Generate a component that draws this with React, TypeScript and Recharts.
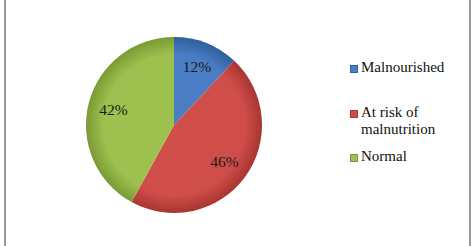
import React from "react";
import { PieChart, Pie, Cell, Legend } from "recharts";

const categories = ["Malnourished", "At risk of malnutrition", "Normal"];
const values = [12, 46, 42];
const colors = ["#4A7EC4", "#D04E4A", "#9DC04F"];
const darkColors = ["#2F5F9E", "#A83531", "#7A9A34"];

const data = categories.map((name, i) => ({ name, value: values[i] }));

const SERIF = "'Liberation Serif', 'Times New Roman', 'DejaVu Serif', serif";
const RAD = Math.PI / 180;

const renderLabel = (props: any) => {
  const { cx, cy, midAngle, outerRadius, value } = props;
  const r = outerRadius * 0.71;
  const x = cx + r * Math.cos(-midAngle * RAD);
  const y = cy + r * Math.sin(-midAngle * RAD);
  return (
    <text
      x={x}
      y={y}
      textAnchor="middle"
      dominantBaseline="central"
      fill="#1a1a1a"
      fontSize={15.5}
      style={{ fontFamily: SERIF }}
    >
      {value}%
    </text>
  );
};

const renderLegend = () => (
  <div style={{ fontFamily: SERIF, fontSize: 15, color: "#111", lineHeight: "17px" }}>
    {data.map((d, i) => (
      <div
        key={d.name}
        style={{
          display: "flex",
          alignItems: "flex-start",
          marginBottom: i === 0 ? 28 : 10,
          width: 115,
        }}
      >
        <span
          style={{
            display: "inline-block",
            width: 6,
            height: 6,
            marginTop: 6,
            marginRight: 3,
            background: colors[i],
            border: `1px solid ${darkColors[i]}`,
            flexShrink: 0,
          }}
        />
        <span>{d.name}</span>
      </div>
    ))}
  </div>
);

export default function App() {
  return (
    <div
      style={{
        position: "absolute",
        left: 0,
        top: 0,
        width: 475,
        height: 246,
        background: "#fff",
      }}
    >
      <div style={{ position: "absolute", left: 4, top: 0, width: 2, height: 246, background: "#9a9a9a" }} />
      <div style={{ position: "absolute", left: 469, top: 0, width: 2, height: 246, background: "#9a9a9a" }} />
      <PieChart width={475} height={246} margin={{ top: 0, right: 0, bottom: 0, left: 0 }}>
        <defs>
          {colors.map((c, i) => (
            <radialGradient
              key={i}
              id={`g${i}`}
              gradientUnits="userSpaceOnUse"
              cx={174}
              cy={125}
              r={88}
            >
              <stop offset="0%" stopColor={c} />
              <stop offset="80%" stopColor={c} />
              <stop offset="100%" stopColor={darkColors[i]} />
            </radialGradient>
          ))}
        </defs>
        <Pie
          data={data}
          dataKey="value"
          nameKey="name"
          cx={174}
          cy={125}
          outerRadius={88}
          startAngle={90}
          endAngle={-270}
          stroke="none"
          label={renderLabel}
          labelLine={false}
          isAnimationActive={false}
        >
          {data.map((d, i) => (
            <Cell key={d.name} fill={`url(#g${i})`} />
          ))}
        </Pie>
        <Legend
          content={renderLegend}
          layout="vertical"
          wrapperStyle={{ position: "absolute", left: 350, top: 59, width: 120 }}
        />
      </PieChart>
    </div>
  );
}
